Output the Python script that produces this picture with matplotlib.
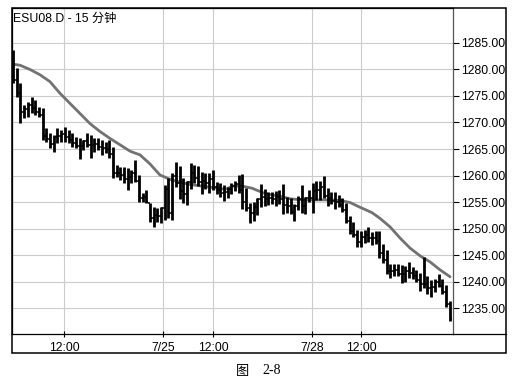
import matplotlib
matplotlib.use("Agg")
import matplotlib.pyplot as plt
from matplotlib.lines import Line2D
from matplotlib.patches import Rectangle

plt.rcParams['font.family'] = ['Liberation Sans', 'Noto Sans CJK SC']

title = "ESU08.D - 15 分钟"

# 15-minute OHLC bars
highs = [1283.7, 1280.2, 1277.5, 1273.3, 1273.9, 1274.9, 1274.2, 1273.0, 1272.7, 1268.9,
         1268.0, 1267.6, 1268.9, 1268.6, 1269.2, 1268.6, 1268.0, 1267.3, 1267.0, 1266.7,
         1268.0, 1267.6, 1267.0, 1267.1, 1266.7, 1266.3, 1266.7, 1265.4, 1262.0, 1261.6,
         1261.6, 1261.4, 1261.0, 1262.9, 1260.1, 1256.7, 1257.3, 1254.8, 1254.1, 1253.9,
         1254.1, 1258.2, 1259.5, 1260.5, 1262.6, 1261.7, 1259.5, 1259.0, 1262.3, 1262.0,
         1261.7, 1260.7, 1260.5, 1260.5, 1261.0, 1258.8, 1258.5, 1258.3, 1257.9, 1258.6,
         1259.0, 1260.1, 1260.3, 1257.7, 1254.8, 1255.0, 1255.8, 1258.4, 1257.5, 1256.8,
         1256.8, 1257.0, 1257.3, 1258.4, 1255.9, 1255.7, 1254.7, 1256.1, 1258.2, 1256.0,
         1257.3, 1258.5, 1259.0, 1258.9, 1259.9, 1257.6, 1256.9, 1256.8, 1256.3, 1255.8,
         1254.9, 1252.4, 1251.2, 1249.7, 1249.5, 1249.7, 1250.2, 1249.3, 1249.5, 1249.5,
         1247.0, 1246.0, 1243.3, 1243.3, 1243.3, 1243.1, 1242.9, 1243.7, 1242.7, 1242.2,
         1241.6, 1244.6, 1241.0, 1240.3, 1240.5, 1241.5, 1240.4, 1239.4, 1236.3]
lows = [1277.4, 1274.9, 1269.9, 1270.8, 1271.1, 1271.7, 1271.4, 1271.1, 1266.7, 1266.4,
        1265.1, 1264.5, 1266.1, 1266.4, 1266.4, 1266.1, 1265.4, 1265.1, 1263.2, 1264.8,
        1265.4, 1263.3, 1264.5, 1264.8, 1263.9, 1264.2, 1263.3, 1259.5, 1259.7, 1259.2,
        1258.6, 1257.3, 1258.6, 1258.7, 1255.0, 1255.0, 1254.8, 1251.2, 1250.3, 1251.2,
        1251.0, 1251.6, 1252.0, 1251.6, 1257.9, 1255.5, 1254.8, 1254.4, 1257.4, 1258.5,
        1258.0, 1256.6, 1257.5, 1256.7, 1257.3, 1256.6, 1256.0, 1255.1, 1255.8, 1256.6,
        1257.0, 1256.7, 1253.7, 1253.3, 1251.0, 1251.4, 1252.5, 1254.0, 1254.2, 1254.4,
        1254.6, 1254.3, 1254.6, 1252.7, 1253.0, 1252.8, 1251.4, 1253.4, 1252.9, 1252.7,
        1255.0, 1253.0, 1255.3, 1255.3, 1255.8, 1254.2, 1254.6, 1253.6, 1254.0, 1253.1,
        1251.0, 1249.0, 1248.4, 1246.5, 1246.6, 1247.3, 1247.5, 1246.9, 1247.0, 1244.4,
        1243.5, 1241.4, 1240.7, 1241.0, 1241.1, 1239.7, 1240.0, 1240.7, 1240.5, 1240.0,
        1238.2, 1238.8, 1237.6, 1237.1, 1238.0, 1238.9, 1237.6, 1235.1, 1232.6]
opens = [1283.0, 1278.0, 1275.5, 1272.0, 1272.5, 1273.3, 1272.8, 1272.0, 1271.5, 1267.5,
         1266.8, 1266.0, 1267.3, 1267.5, 1267.8, 1267.3, 1266.7, 1266.2, 1265.5, 1265.6,
         1266.5, 1265.8, 1265.7, 1266.0, 1265.3, 1265.2, 1265.0, 1264.0, 1260.5, 1260.4,
         1260.1, 1259.4, 1259.8, 1260.5, 1259.0, 1255.8, 1256.0, 1254.8, 1252.0, 1252.5,
         1252.3, 1253.8, 1257.5, 1253.0, 1260.0, 1258.5, 1257.0, 1256.5, 1258.8, 1260.5,
         1259.5, 1258.8, 1259.0, 1258.5, 1259.3, 1257.8, 1257.3, 1256.7, 1256.8, 1257.5,
         1258.0, 1258.4, 1257.2, 1255.0, 1253.8, 1253.0, 1254.0, 1255.5, 1256.0, 1255.6,
         1255.7, 1255.6, 1256.0, 1255.5, 1254.5, 1254.2, 1253.2, 1254.2, 1255.5, 1254.3,
         1255.8, 1255.8, 1257.0, 1257.2, 1257.8, 1256.2, 1255.7, 1255.2, 1255.0, 1254.5,
         1253.5, 1251.5, 1249.6, 1248.8, 1247.5, 1248.4, 1248.8, 1248.2, 1248.2, 1247.6,
         1245.3, 1244.0, 1242.0, 1242.0, 1242.2, 1241.5, 1241.4, 1242.0, 1241.6, 1241.1,
         1240.3, 1239.5, 1239.5, 1238.8, 1239.0, 1240.0, 1239.2, 1238.0, 1235.8]
closes = [1278.0, 1275.5, 1272.0, 1272.5, 1273.3, 1272.8, 1272.0, 1271.5, 1267.5, 1266.8,
          1266.0, 1267.3, 1267.5, 1267.8, 1267.3, 1266.7, 1266.2, 1265.5, 1265.6, 1266.5,
          1265.8, 1265.7, 1266.0, 1265.3, 1265.2, 1265.0, 1264.0, 1260.5, 1260.4, 1260.1,
          1259.4, 1259.8, 1260.5, 1259.0, 1255.8, 1256.0, 1255.0, 1252.0, 1252.5, 1252.3,
          1253.8, 1257.5, 1253.0, 1260.0, 1258.5, 1257.0, 1256.5, 1258.8, 1260.5, 1259.5,
          1258.8, 1259.0, 1258.5, 1259.3, 1257.8, 1257.3, 1256.7, 1256.8, 1257.5, 1258.0,
          1258.4, 1257.2, 1255.0, 1253.8, 1253.0, 1254.0, 1255.5, 1256.0, 1255.6, 1255.7,
          1255.6, 1256.0, 1255.5, 1254.5, 1254.2, 1253.2, 1254.2, 1255.5, 1254.3, 1255.8,
          1255.8, 1257.0, 1257.2, 1257.8, 1256.2, 1255.7, 1255.2, 1255.0, 1254.5, 1253.5,
          1251.5, 1249.6, 1248.8, 1247.5, 1248.4, 1248.8, 1248.2, 1248.2, 1247.6, 1245.3,
          1244.0, 1242.0, 1242.0, 1242.2, 1241.5, 1241.4, 1242.0, 1241.6, 1241.1, 1240.3,
          1239.5, 1239.5, 1238.8, 1239.0, 1240.0, 1239.2, 1238.0, 1235.8, 1233.0]

# moving average, sampled at bar positions
ma_bar = [0, 1.9, 4.6, 7.3, 10, 12.7, 15.4, 18.1, 20.8, 23.5, 26.2, 28.9, 31.6, 32.7,
          34.3, 37, 39.7, 42.7, 45.4, 47.8, 50, 53.2, 57.3, 59.5, 61.9, 64.6, 68.1, 72.7,
          74.9, 78.1, 84.6, 88.4, 91.1, 93.8, 97, 99.2, 101.9, 104.6, 107.3, 110.3, 112.7,
          115.4, 118.1]
ma_val = [1281.0, 1280.8, 1280.0, 1279.0, 1277.7, 1275.5, 1273.6, 1271.7, 1269.8, 1268.3,
          1267.0, 1265.8, 1264.6, 1264.3, 1263.9, 1262.2, 1260.1, 1259.2, 1258.7, 1258.3,
          1258.1, 1257.8, 1257.4, 1258.0, 1258.0, 1257.6, 1256.6, 1256.0, 1255.6, 1255.4,
          1255.4, 1255.3, 1254.9, 1254.0, 1253.0, 1251.9, 1250.3, 1248.2, 1246.3, 1244.7,
          1243.7, 1242.2, 1240.9]

time_ticks = [13.8, 40.5, 54.05, 80.8, 94.05]
time_labels = ["12:00", "7/25", "12:00", "7/28", "12:00"]
price_ticks = [1235, 1240, 1245, 1250, 1255, 1260, 1265, 1270, 1275, 1280, 1285]

W, H = 516, 382
fig = plt.figure(figsize=(W / 100, H / 100), dpi=100)
fig.patch.set_facecolor("white")

L, R, T, B = 12, 453, 8, 334
ax = fig.add_axes([L / W, 1 - B / H, (R - L) / W, (B - T) / H])
ax.set_xlim(-0.27, 118.9)
ax.set_ylim(1230.1, 1291.6)

ax.set_xticks(time_ticks)
ax.set_xticklabels(time_labels)
ax.set_yticks(price_ticks)
ax.set_yticklabels([f"{p:.2f}" for p in price_ticks])
ax.yaxis.tick_right()
ax.grid(True, color="#cccccc", lw=0.8)
ax.set_axisbelow(True)
ax.tick_params(axis="y", direction="out", length=4.5, width=0.8, pad=1.0,
               labelsize=8.7, colors="black")
ax.tick_params(axis="x", direction="inout", length=5, width=0.8, pad=3.0,
               labelsize=8.7, colors="black")
for s in ax.spines.values():
    s.set_color("black")
    s.set_linewidth(0.9)
ax.spines["right"].set_color("#555555")

# moving average
ax.plot(ma_bar, ma_val, color="#727272", lw=2.0, solid_capstyle="round", zorder=2)

# OHLC bars
idx = list(range(len(highs)))
ax.vlines(idx, lows, highs, color="black", lw=2.0, zorder=3)
ax.hlines(opens, [i - 0.5 for i in idx], idx, color="black", lw=1.1, zorder=3)
ax.hlines(closes, idx, [i + 0.5 for i in idx], color="black", lw=1.1, zorder=3)

ax.text(0.003, 0.985, title, transform=ax.transAxes, ha="left", va="top",
        fontsize=8.8, color="black")

# outer frame and bottom strip
fig.add_artist(Rectangle((L / W, 1 - 353 / H), (506 - L) / W, (353 - T) / H,
                         fill=False, lw=1.1, edgecolor="black",
                         transform=fig.transFigure))
fig.add_artist(Line2D([R / W, 506 / W], [1 - B / H, 1 - B / H], lw=0.9,
                      color="black", transform=fig.transFigure))

fig.text(242.5 / W, 1 - 371 / H, "图", ha="center", va="center", fontsize=9.5,
         family=["Noto Sans CJK SC"])
fig.text(272 / W, 1 - 371 / H, "2-8", ha="center", va="center", fontsize=10,
         family=["Liberation Serif"])

fig.savefig("out.png", dpi=100)
